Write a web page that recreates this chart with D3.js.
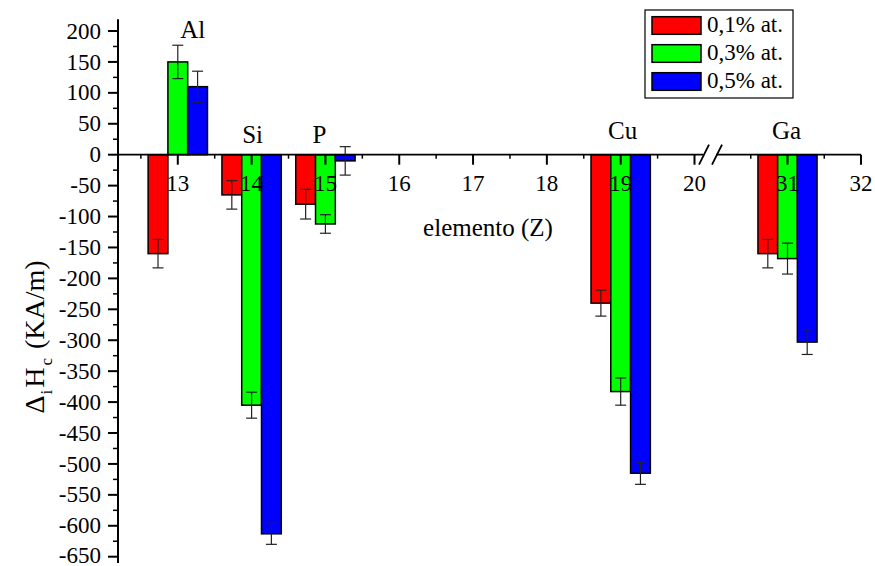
<!DOCTYPE html>
<html><head><meta charset="utf-8">
<script src="https://cdn.jsdelivr.net/npm/d3@7"></script>
<style>
body{margin:0;background:#fff}
</style>
</head><body>
<svg id="c" width="875" height="566" style="font-family:'Liberation Serif','DejaVu Serif',serif"></svg>
<script>
// ---- data ----
const elements = ["Al", "Si", "P", "Cu", "Ga"];
const positions = [13, 14, 15, 19, 31];
const seriesNames = ["0,1% at.", "0,3% at.", "0,5% at."];
const values01 = [-160, -65, -80, -240, -160];
const values03 = [150, -405, -112, -383, -168];
const values05 = [110, -613, -10, -515, -303];
const errors01 = [23, 23, 24, 21, 23];
const errors03 = [27, 21, 15, 22, 25];
const errors05 = [25, 17, 23, 18, 20];
const xTicks = [13, 14, 15, 16, 17, 18, 19, 20, 31, 32];
const xMinorTicks = [12.5, 13.5, 14.5, 15.5, 16.5, 17.5, 18.5, 19.5, 30.5, 31.5];
const yTicks = d3.range(-650, 201, 50);
const yMinorTicks = d3.range(-650, 201, 25).filter(v => v % 50 !== 0);

// ---- layout ----
const FONT = "Liberation Serif, DejaVu Serif, serif";
const colors = ["#ff0000", "#00ff00", "#0000ff"];
const svg = d3.select("#c");
const x = d3.scaleLinear().domain([12.19, 20, 30, 32]).range([118, 694.5, 714, 861]);
const y = d3.scaleLinear().domain([-650, 200]).range([556.7, 31]);
const barW = 0.268;

const series = [values01, values03, values05];
const errs = [errors01, errors03, errors05];

// bars
const g = svg.append("g");
series.forEach((vals, si) => {
  const off = (si - 1) * barW;
  g.selectAll(null).data(vals.map((v, i) => ({v, p: positions[i]}))).enter()
    .append("rect")
    .attr("x", d => x(d.p + off - barW / 2))
    .attr("width", d => x(d.p + off + barW / 2) - x(d.p + off - barW / 2))
    .attr("y", d => y(Math.max(0, d.v)))
    .attr("height", d => Math.abs(y(d.v) - y(0)))
    .attr("fill", colors[si])
    .attr("stroke", "#000")
    .attr("stroke-width", 1.5);
});
// error bars
series.forEach((vals, si) => {
  const off = (si - 1) * barW;
  vals.forEach((v, i) => {
    const cx = x(positions[i] + off), e = errs[si][i];
    const eg = svg.append("g").attr("stroke", "#222").attr("stroke-width", 1.2);
    eg.append("line").attr("x1", cx).attr("x2", cx).attr("y1", y(v + e)).attr("y2", y(v - e));
    [v + e, v - e].forEach(t => eg.append("line").attr("x1", cx - 5.5).attr("x2", cx + 5.5).attr("y1", y(t)).attr("y2", y(t)));
  });
});

// y axis
const ax = svg.append("g").attr("stroke", "#000");
ax.append("line").attr("x1", 118).attr("x2", 118).attr("y1", y(219)).attr("y2", y(-660)).attr("stroke-width", 2);
yTicks.forEach(t => ax.append("line").attr("x1", 108).attr("x2", 118).attr("y1", y(t)).attr("y2", y(t)).attr("stroke-width", 2));
yMinorTicks.forEach(t => ax.append("line").attr("x1", 113).attr("x2", 118).attr("y1", y(t)).attr("y2", y(t)).attr("stroke-width", 1.5));
svg.append("g").selectAll("text").data(yTicks).enter().append("text")
  .attr("font-family", FONT)
  .attr("x", 101).attr("y", d => y(d)).attr("dy", d => d === -650 ? "0.28em" : "0.33em")
  .attr("text-anchor", "end").attr("font-size", 23).text(d => d);

// x axis (with break)
const y0 = y(0);
ax.append("line").attr("x1", 118).attr("x2", 703).attr("y1", y0).attr("y2", y0).attr("stroke-width", 1.8);
ax.append("line").attr("x1", 716).attr("x2", 861).attr("y1", y0).attr("y2", y0).attr("stroke-width", 1.8);
[[699, 709], [712, 722]].forEach(([a, b]) => ax.append("line")
  .attr("x1", a).attr("y1", y0 + 10).attr("x2", b).attr("y2", y0 - 10).attr("stroke-width", 1.8));
xTicks.forEach(t => ax.append("line").attr("x1", x(t)).attr("x2", x(t)).attr("y1", y0).attr("y2", y0 + 10).attr("stroke-width", 2));
xMinorTicks.forEach(t => ax.append("line").attr("x1", x(t)).attr("x2", x(t)).attr("y1", y0).attr("y2", y0 + 4).attr("stroke-width", 1.5));
svg.append("g").selectAll("text").data(xTicks).enter().append("text")
  .attr("font-family", FONT)
  .attr("x", d => x(d)).attr("y", 191)
  .attr("text-anchor", "middle").attr("font-size", 23).text(d => d);

// element labels
const labelDx = [15, 1, -6, 2, -1];
const labelY = [38, 143, 143, 139, 139];
elements.forEach((el, i) => svg.append("text")
  .attr("font-family", FONT)
  .attr("x", x(positions[i]) + labelDx[i]).attr("y", labelY[i])
  .attr("text-anchor", "middle").attr("font-size", 25).text(el));

// axis titles
svg.append("text").attr("font-family", FONT).attr("x", 488).attr("y", 236).attr("text-anchor", "middle")
  .attr("font-size", 25).text("elemento (Z)");
const yt = svg.append("text").attr("font-family", FONT).attr("transform", "translate(44,337) rotate(-90)")
  .attr("text-anchor", "middle").attr("font-size", 28);
yt.append("tspan").text("\u0394");
yt.append("tspan").attr("font-size", 17).attr("dy", 8).attr("dx", 1).text("i");
yt.append("tspan").attr("dy", -8).attr("dx", 2).text("H");
yt.append("tspan").attr("font-size", 17).attr("dy", 8).attr("dx", 2).text("c");
yt.append("tspan").attr("dy", -8).attr("dx", 2).text(" (KA/m)");

// legend
const lg = svg.append("g");
lg.append("rect").attr("x", 645).attr("y", 10).attr("width", 148).attr("height", 88)
  .attr("fill", "#fff").attr("stroke", "#000").attr("stroke-width", 1.2);
seriesNames.forEach((n, i) => {
  lg.append("rect").attr("x", 652).attr("y", 16.7 + i * 28).attr("width", 49).attr("height", 17.6)
    .attr("fill", colors[i]).attr("stroke", "#000").attr("stroke-width", 1.5);
  lg.append("text").attr("font-family", FONT).attr("x", 707).attr("y", 32 + i * 28).attr("font-size", 23).text(n);
});
</script>
</body></html>
